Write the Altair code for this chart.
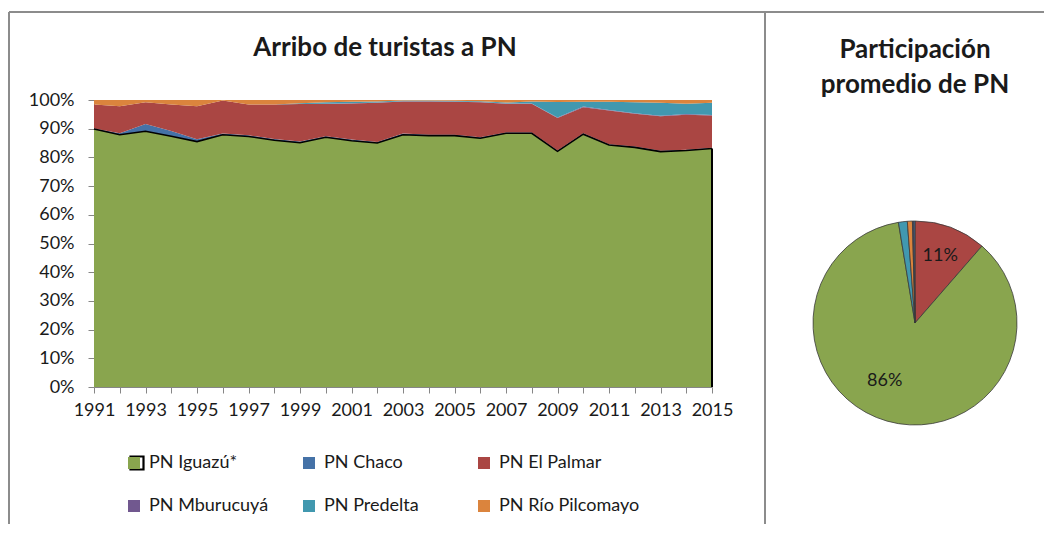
import altair as alt
import pandas as pd

FONT = "Lato"

years = list(range(1991, 2016))
parques = ["PN Iguazú*", "PN Chaco", "PN El Palmar", "PN Mburucuyá", "PN Predelta", "PN Río Pilcomayo"]
colores = ["#89A54E", "#4572A7", "#AA4643", "#71588F", "#4198AF", "#DB843D"]

# Participación anual (%) por parque
iguazu = [89.9, 87.9, 89.1, 87.4, 85.5, 87.9, 87.3, 86.0, 85.1, 87.0, 85.8, 85.0, 87.9,
          87.6, 87.6, 86.7, 88.4, 88.4, 82.1, 88.1, 84.3, 83.5, 82.0, 82.4, 83.1]
chaco = [0.2, 0.5, 2.5, 1.8, 0.8, 0.4, 0.4, 0.4, 0.4, 0.4, 0.4, 0.4, 0.4,
         0.3, 0.3, 0.3, 0.3, 0.3, 0.3, 0.3, 0.3, 0.3, 0.3, 0.3, 0.3]
palmar = [8.3, 9.4, 7.6, 9.2, 11.5, 11.5, 10.7, 12.0, 13.1, 11.2, 12.6, 13.6, 11.2,
          11.6, 11.5, 12.2, 10.0, 10.0, 11.3, 9.1, 11.7, 11.4, 12.0, 12.2, 11.2]
mburucuya = [0.0, 0.0, 0.0, 0.0, 0.0, 0.0, 0.0, 0.0, 0.0, 0.1, 0.1, 0.1, 0.1,
             0.1, 0.1, 0.1, 0.1, 0.1, 0.2, 0.2, 0.2, 0.2, 0.2, 0.2, 0.2]
predelta = [0.0, 0.0, 0.0, 0.0, 0.0, 0.0, 0.0, 0.0, 0.3, 0.5, 0.5, 0.4, 0.2,
            0.2, 0.2, 0.3, 0.3, 0.7, 5.4, 1.7, 2.9, 3.8, 4.5, 3.6, 4.2]
pilcomayo = [1.6, 2.2, 0.8, 1.6, 2.2, 0.2, 1.6, 1.6, 1.1, 0.8, 0.6, 0.5, 0.2,
             0.2, 0.3, 0.4, 0.9, 0.5, 0.7, 0.6, 0.6, 0.8, 1.0, 1.3, 1.0]
series = [iguazu, chaco, palmar, mburucuya, predelta, pilcomayo]

# Participación promedio (torta), en sentido horario desde las 12
pie_parques = ["PN El Palmar", "PN Iguazú*", "PN Predelta", "PN Río Pilcomayo", "PN Mburucuyá", "PN Chaco"]
pie_share = [11.4, 86.0, 1.4, 0.8, 0.2, 0.2]
pie_labels = ["11%", "86%", "", "", "", ""]

y_ticks = list(range(0, 101, 10))

rows = []
for i, (name, vals) in enumerate(zip(parques, series)):
    for yr, v in zip(years, vals):
        rows.append({"anio": yr, "parque": name, "valor": v, "orden": i})
df = pd.DataFrame(rows)
df_ig = df[df["parque"] == parques[0]]
df_ig_last = df_ig[df_ig["anio"] == years[-1]]

pie_df = pd.DataFrame({"parque": pie_parques, "share": pie_share,
                       "etiqueta": pie_labels, "orden_pie": list(range(len(pie_parques)))})

color = alt.Color(
    "parque:N",
    scale=alt.Scale(domain=parques, range=colores),
    legend=alt.Legend(
        title=None, orient="none", legendX=31, legendY=354, columns=3,
        direction="horizontal",
        symbolType="square", symbolSize=144, symbolStrokeWidth=0,
        labelFont=FONT, labelFontSize=18, labelColor="#1a1a1a", labelOffset=6,
        rowPadding=25, columnPadding=10, gridAlign="all",
    ),
)

x_scale = alt.Scale(domain=[years[0], years[-1]], nice=False, zero=False)
x_axis = alt.Axis(values=years, format="d",
                  labelExpr="datum.value % 2 == 1 ? datum.label : ''",
                  tickSize=6, labelPadding=8, labelFlush=False, labelOverlap=False)
y_scale = alt.Scale(domain=[0, 100], nice=False)
y_axis = alt.Axis(values=y_ticks, labelExpr="datum.value + '%'",
                  tickSize=6, labelPadding=14, labelOverlap=False)

x_enc = alt.X("anio:Q", title=None, scale=x_scale, axis=x_axis)
y_stack = alt.Y("valor:Q", title=None, stack="zero", scale=y_scale, axis=y_axis)
y_plain = alt.Y("valor:Q", title=None, stack=None, scale=y_scale, axis=y_axis)

area = alt.Chart(df).mark_area(opacity=1).encode(
    x=x_enc, y=y_stack, color=color, order=alt.Order("orden:Q"))

line = alt.Chart(df_ig).mark_line(color="black", strokeWidth=1.6).encode(
    x=x_enc, y=y_plain)

edge = alt.Chart(df_ig_last).mark_rule(color="black", strokeWidth=2).encode(
    x=x_enc, y=y_plain, y2=alt.datum(0))

arc = alt.Chart(pie_df).mark_arc(outerRadius=102, stroke="#3a3a3a", strokeWidth=0.8).encode(
    theta=alt.Theta("share:Q", stack=True),
    color=color,
    order=alt.Order("orden_pie:Q"),
    x=alt.value(821), y=alt.value(223))

def pie_label(park, radius, dx, dy):
    return alt.Chart(pie_df).transform_calculate(
        txt=f"datum.parque === '{park}' ? datum.etiqueta : ''"
    ).mark_text(radius=radius, dx=dx, dy=dy, font=FONT, fontSize=18, color="#1a1a1a").encode(
        theta=alt.Theta("share:Q", stack=True),
        order=alt.Order("orden_pie:Q"),
        text="txt:N",
        x=alt.value(821), y=alt.value(223))

lbl_palmar = pie_label("PN El Palmar", 72, 0, 0)
lbl_iguazu = pie_label("PN Iguazú*", 67, -12, -6)

blank = alt.Data(values=[{}])
title_left = alt.Chart(blank).mark_text(
    text="Arribo de turistas a PN", font=FONT, fontSize=26, fontWeight="bold",
    color="#1a1a1a", align="center", baseline="middle").encode(
    x=alt.value(291), y=alt.value(-52))
title_right = alt.Chart(blank).mark_text(
    text=["Participación", "promedio de PN"], font=FONT, fontSize=26, fontWeight="bold",
    color="#1a1a1a", align="center", baseline="middle", lineHeight=35).encode(
    x=alt.value(821), y=alt.value(-50))

# black outline of the Iguazú legend swatch (the series has a black border)
swatch_outline = alt.Chart(blank).mark_point(
    shape="square", size=169, filled=False, stroke="black", strokeWidth=2.2, opacity=1).encode(
    x=alt.value(43), y=alt.value(363))

border_col = "#8c8c8c"
b_top = alt.Chart(blank).mark_rule(color=border_col, strokeWidth=2).encode(
    x=alt.value(-85), x2=alt.value(960), y=alt.value(-88))
b_left = alt.Chart(blank).mark_rule(color=border_col, strokeWidth=2).encode(
    x=alt.value(-85), y=alt.value(-88), y2=alt.value(440))
b_mid = alt.Chart(blank).mark_rule(color=border_col, strokeWidth=2).encode(
    x=alt.value(671), y=alt.value(-88), y2=alt.value(440))

chart = alt.layer(area, line, edge, arc, lbl_palmar, lbl_iguazu, title_left, title_right,
                  swatch_outline, b_top, b_left, b_mid).properties(
    width=618, height=287,
    autosize=alt.AutoSizeParams(type="none"),
    padding={"left": 86, "top": 92, "right": 332, "bottom": 137},
    background="white",
).configure_view(stroke=None).configure_axis(
    labelFont=FONT, labelFontSize=18, labelColor="#1a1a1a",
    domainColor="#868686", tickColor="#868686", grid=False,
)

chart.save("out.html", embed_options={"renderer": "svg", "actions": False})
